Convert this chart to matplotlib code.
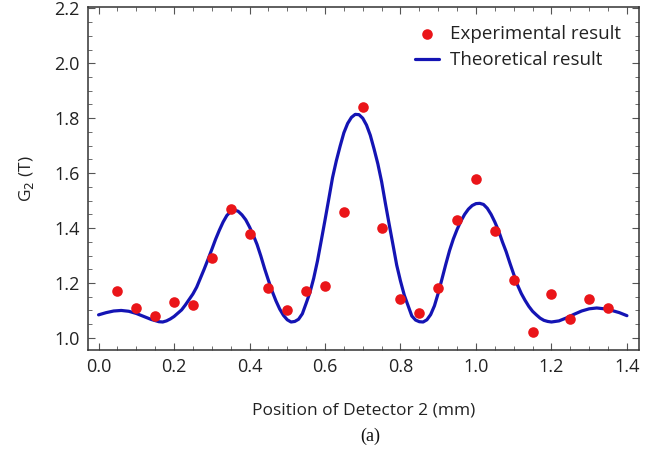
import matplotlib
matplotlib.use("Agg")
import matplotlib.pyplot as plt
from matplotlib.ticker import MultipleLocator

# Experimental points
exp_x = [0.05, 0.10, 0.15, 0.20, 0.25, 0.30, 0.35, 0.40, 0.45, 0.50, 0.55, 0.60, 0.65, 0.70,
         0.75, 0.80, 0.85, 0.90, 0.95, 1.00, 1.05, 1.10, 1.15, 1.20, 1.25, 1.30, 1.35]
exp_y = [1.17, 1.11, 1.08, 1.13, 1.12, 1.29, 1.47, 1.38, 1.18, 1.10, 1.17, 1.19, 1.46, 1.84,
         1.40, 1.14, 1.09, 1.18, 1.43, 1.58, 1.39, 1.21, 1.02, 1.16, 1.07, 1.14, 1.11]

# Theoretical curve
th_x = [0.00, 0.02, 0.04, 0.06, 0.08, 0.10, 0.12, 0.14, 0.16, 0.17, 0.18, 0.19,
        0.20, 0.21, 0.22, 0.23, 0.24, 0.25, 0.26, 0.27, 0.28, 0.29,
        0.30, 0.31, 0.32, 0.33, 0.34, 0.35, 0.36, 0.37, 0.38, 0.39,
        0.40, 0.41, 0.42, 0.43, 0.44, 0.45, 0.46, 0.47, 0.48, 0.49,
        0.50, 0.51, 0.52, 0.53, 0.54, 0.55, 0.56, 0.57, 0.58, 0.59,
        0.60, 0.61, 0.62, 0.63, 0.64, 0.65, 0.66, 0.67, 0.68, 0.69,
        0.70, 0.71, 0.72, 0.73, 0.74, 0.75, 0.76, 0.77, 0.78, 0.79,
        0.80, 0.81, 0.82, 0.83, 0.84, 0.85, 0.86, 0.87, 0.88, 0.89,
        0.90, 0.91, 0.92, 0.93, 0.94, 0.95, 0.96, 0.97, 0.98, 0.99,
        1.00, 1.01, 1.02, 1.03, 1.04, 1.05, 1.06, 1.07, 1.08, 1.09,
        1.10, 1.11, 1.12, 1.13, 1.14, 1.15, 1.16, 1.17, 1.18, 1.19,
        1.20, 1.22, 1.24, 1.26, 1.28, 1.30, 1.32, 1.34, 1.36, 1.38, 1.40]
th_y = [1.084, 1.092, 1.098, 1.100, 1.097, 1.089, 1.078, 1.067, 1.059, 1.058, 1.062, 1.069,
        1.078, 1.090, 1.102, 1.120, 1.140, 1.160, 1.185, 1.218, 1.251, 1.286,
        1.322, 1.359, 1.392, 1.422, 1.446, 1.460, 1.466, 1.461, 1.448, 1.430,
        1.404, 1.374, 1.340, 1.298, 1.252, 1.210, 1.170, 1.135, 1.105, 1.082,
        1.066, 1.058, 1.060, 1.068, 1.088, 1.126, 1.165, 1.217, 1.280, 1.354,
        1.429, 1.506, 1.584, 1.645, 1.698, 1.747, 1.781, 1.803, 1.814, 1.813,
        1.800, 1.775, 1.738, 1.688, 1.634, 1.569, 1.490, 1.414, 1.340, 1.265,
        1.207, 1.156, 1.118, 1.080, 1.065, 1.059, 1.058, 1.066, 1.085, 1.117,
        1.163, 1.215, 1.268, 1.318, 1.360, 1.395, 1.425, 1.450, 1.469, 1.482,
        1.489, 1.490, 1.486, 1.472, 1.450, 1.422, 1.390, 1.350, 1.314, 1.272,
        1.232, 1.193, 1.162, 1.137, 1.115, 1.097, 1.084, 1.072, 1.064, 1.060,
        1.058, 1.062, 1.073, 1.086, 1.098, 1.106, 1.109, 1.106, 1.100, 1.092, 1.081]

x_ticks = [0.0, 0.2, 0.4, 0.6, 0.8, 1.0, 1.2, 1.4]
y_ticks = [1.0, 1.2, 1.4, 1.6, 1.8, 2.0, 2.2]

plt.rcParams['font.family'] = ['Open Sans', 'DejaVu Sans']

fig = plt.figure(figsize=(6.65, 4.66), dpi=100)
ax = fig.add_axes([88 / 665, 1 - 350 / 466, (639 - 88) / 665, (350 - 7) / 466])

ax.scatter(exp_x, exp_y, s=58, color='#ea1519', zorder=3, label='Experimental result',
           linewidths=0)
ax.plot(th_x, th_y, color='#1414b4', lw=2.3, zorder=2, label='Theoretical result',
        solid_capstyle='round', solid_joinstyle='round')

ax.set_xlim(-0.028, 1.432)
ax.set_ylim(0.956, 2.205)
ax.set_xticks(x_ticks)
ax.set_yticks(y_ticks)
ax.set_xticklabels([f"{v:.1f}" for v in x_ticks])
ax.set_yticklabels([f"{v:.1f}" for v in y_ticks])
ax.xaxis.set_minor_locator(MultipleLocator(0.05))
ax.yaxis.set_minor_locator(MultipleLocator(0.05))
ax.tick_params(which='both', direction='in', top=True, right=True, colors='#555555',
               labelcolor='#222222', labelsize=13)
ax.tick_params(which='major', length=5, width=0.8, pad=6)
ax.tick_params(which='minor', length=3, width=0.6)
for s in ax.spines.values():
    s.set_color('#333333')
    s.set_linewidth(1.1)

ax.set_xlabel('Position of Detector 2 (mm)', fontsize=12.5, color='#222222', labelpad=19)
ax.set_ylabel('G$_2$ (T)', fontsize=12.5, color='#222222', labelpad=13)
fig.text(370 / 665, 1 - 436 / 466, '(a)', ha='center', va='center', fontsize=13,
         color='#111111', family=['Liberation Serif', 'DejaVu Serif'])

leg = ax.legend(loc='upper right', frameon=False, fontsize=13.5, handlelength=1.3,
                handletextpad=0.6, borderaxespad=0.55, labelspacing=0.45)
for t in leg.get_texts():
    t.set_color('#222222')

fig.savefig('out.png', dpi=100)
